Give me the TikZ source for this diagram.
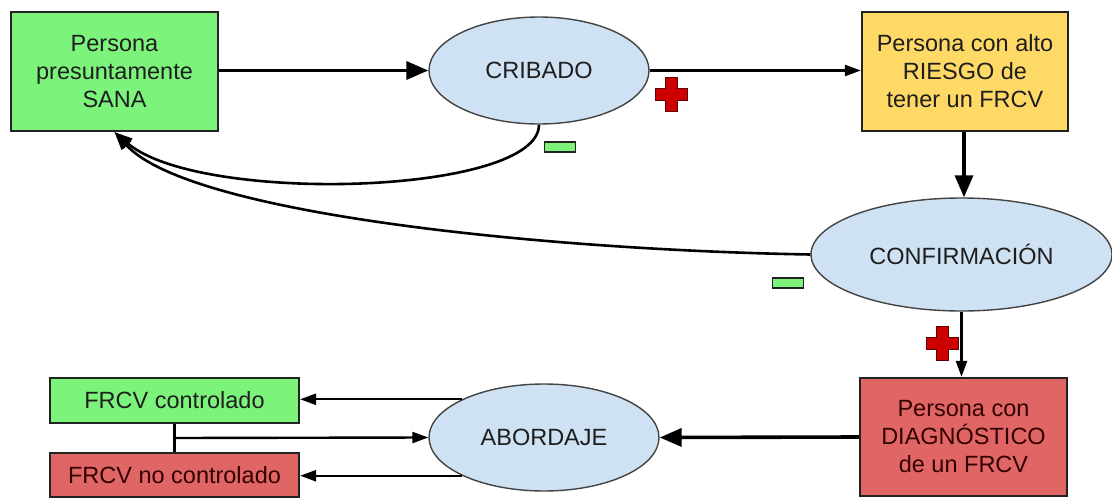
\documentclass[tikz,border=0pt]{standalone}
\usepackage{fontspec}
\setmainfont{Liberation Sans}
\usetikzlibrary{shapes.geometric,arrows.meta,calc}
\definecolor{boxgreen}{HTML}{7CF47C}
\definecolor{boxyellow}{HTML}{FFD966}
\definecolor{boxred}{HTML}{E06666}
\definecolor{ellblue}{HTML}{CFE2F3}
\definecolor{crossred}{HTML}{CC0000}
\definecolor{edge}{HTML}{222222}
\definecolor{ink}{HTML}{1E1E1E}
\begin{document}
\begin{tikzpicture}[x=1pt,y=-1pt,
  every node/.style={font=\fontsize{23.5}{28}\selectfont, text=ink},
  box/.style={rectangle, draw=edge, line width=2.2pt, inner sep=0pt, align=center},
  ellnode/.style={ellipse, draw=edge!85, fill=ellblue, line width=1.4pt, inner sep=0pt},
  thickarrow/.style={draw=black, line width=3.6pt, -{Triangle[length=22pt,width=18pt]}},
  thinarrow/.style={draw=black, line width=2.4pt, -{Triangle[length=16pt,width=11pt]}},
  curvearrow/.style={draw=black, line width=2.6pt, -{Triangle[length=18pt,width=13pt]}},
  minusbox/.style={rectangle, draw=edge, fill=boxgreen, line width=1.3pt, inner sep=0pt, minimum width=31pt, minimum height=10pt},
  redcross/.pic={\draw[fill=crossred, draw=crossred!45!black, line width=0.9pt]
     (-6,-17) -- (6,-17) -- (6,-6) -- (16,-6) -- (16,6) -- (6,6) -- (6,17)
     -- (-6,17) -- (-6,6) -- (-16,6) -- (-16,-6) -- (-6,-6) -- cycle;}
]
\fill[white] (0,0) rectangle (1112,498);
\useasboundingbox (0,0) rectangle (1112,498);

% boxes
\node[box, fill=boxgreen, minimum width=207pt, minimum height=119pt] (sana) at (114.5,71.5)
  {Persona\\presuntamente\\SANA};
\node[box, fill=boxyellow, minimum width=206pt, minimum height=119pt] (riesgo) at (965,71.5)
  {Persona con alto\\RIESGO de\\tener un FRCV};
\node[box, fill=boxred, minimum width=207pt, minimum height=118pt, text=black!80!red] (diag) at (963.5,437)
  {Persona con\\DIAGNÓSTICO\\de un FRCV};
\node[box, fill=boxgreen, minimum width=249pt, minimum height=45pt] (ctrl) at (174.5,400.5)
  {FRCV controlado};
\node[box, fill=boxred, minimum width=249pt, minimum height=44pt, text=black!80!red] (nctrl) at (174.5,475)
  {FRCV no controlado};

% ellipses
\node[ellnode, minimum width=220pt, minimum height=107pt] (crib) at (539,70.5) {CRIBADO};
\node[ellnode, minimum width=301pt, minimum height=113pt] (conf) at (961.5,254.5) {CONFIRMACIÓN};
\node[ellnode, minimum width=230pt, minimum height=107pt] (abor) at (544,437.5) {ABORDAJE};

% signs
\pic at (671,94) {redcross};
\pic at (942,343) {redcross};
\node[minusbox] (minA) at (560,147) {};
\node[minusbox] (minB) at (788,283) {};

% straight connectors
\draw[thickarrow] (sana.east |- crib.west) -- (crib.west);
\draw[thinarrow] (crib.east) -- (riesgo.west |- crib.east);
\draw[thickarrow] ([xshift=-1pt]riesgo.south) -- ([xshift=-1pt]riesgo.south |- conf.north);
\draw[thinarrow] (conf.south) -- (conf.south |- diag.north);
\draw[thickarrow] (diag.west) -- (abor.east);
\draw[thinarrow] (abor.155) -- (abor.155 -| ctrl.east);
\draw[thinarrow] (abor.205) -- (abor.205 -| nctrl.east);
\coordinate (join) at ($(ctrl.south)!0.5!(nctrl.north)$);
\draw[line width=2.4pt] (ctrl.south) -- (nctrl.north);
\draw[thinarrow] (join) -- (abor.west);

% curved feedback connectors
\draw[curvearrow] (crib.south) .. controls (539,195) and (200,205) .. (sana.south);
\draw[curvearrow] (conf.west) .. controls (550,250) and (190,215) .. (sana.south);
\end{tikzpicture}
\end{document}
